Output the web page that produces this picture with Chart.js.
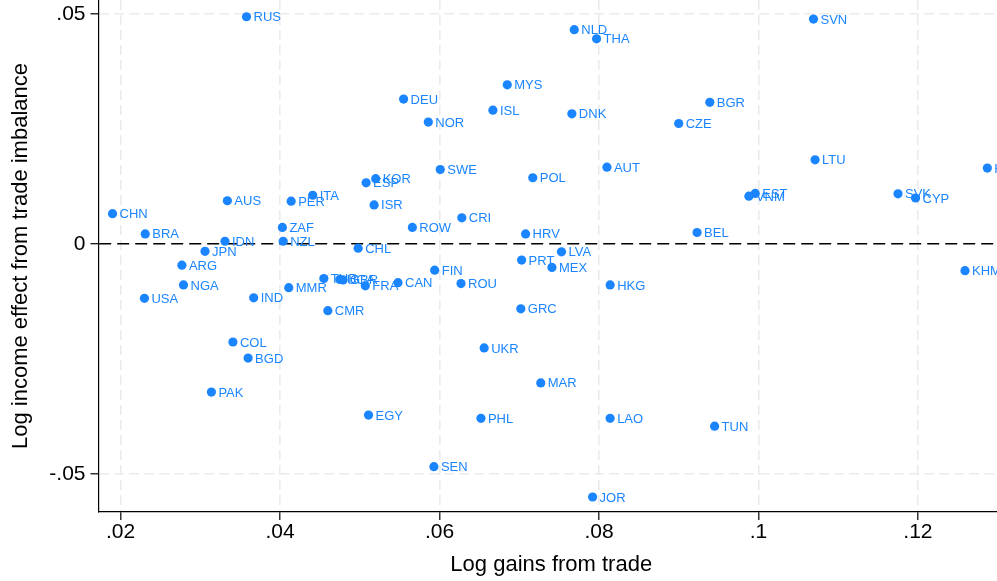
<!DOCTYPE html>
<html>
<head>
<meta charset="utf-8">
<script src="https://cdn.jsdelivr.net/npm/chart.js@4/dist/chart.umd.min.js"></script>
<style>
  html, body { margin: 0; padding: 0; overflow: hidden; background: #fff; width: 997px; height: 581px; }
  #wrap { position: absolute; left: 0; top: 0; width: 1004px; height: 581px; }
</style>
</head>
<body>
<div id="wrap"><canvas id="c" width="1004" height="581"></canvas></div>
<script>
// Country codes with their log gains from trade (x) and log income effect from trade imbalance (y)
const countries = ["RUS","NLD","THA","SVN","MYS","DEU","BGR","ISL","DNK","NOR","CZE","SWE","AUT","LTU","KOR","ESP","POL","ITA","PER","AUS","ISR","CHN","CRI","EST","VNM","SVK","CYP","HUN","ZAF","ROW","BRA","HRV","BEL","IDN","NZL","CHL","JPN","LVA","PRT","ARG","MEX","KHM","FIN","TUR","UGA","GBR","FRA","CAN","ROU","NGA","MMR","HKG","USA","IND","GRC","CMR","COL","UKR","BGD","MAR","PAK","EGY","PHL","LAO","TUN","SEN","JOR"];
const gains = [0.0358,0.0769,0.0797,0.1069,0.0685,0.0555,0.0939,0.0667,0.0766,0.0586,0.0900,0.0601,0.0810,0.1071,0.0520,0.0508,0.0717,0.0441,0.0414,0.0334,0.0518,0.0190,0.0628,0.0996,0.0988,0.1175,0.1197,0.1287,0.0403,0.0566,0.0231,0.0708,0.0923,0.0331,0.0404,0.0498,0.0306,0.0753,0.0703,0.0277,0.0741,0.1259,0.0594,0.0455,0.0475,0.0479,0.0507,0.0548,0.0627,0.0279,0.0411,0.0814,0.0230,0.0367,0.0702,0.0460,0.0341,0.0656,0.0360,0.0727,0.0314,0.0511,0.0652,0.0814,0.0945,0.0593,0.0792];
const imbalance = [0.0494,0.0466,0.0446,0.0489,0.0346,0.0315,0.0308,0.0291,0.0283,0.0265,0.0262,0.0162,0.0167,0.0183,0.0142,0.0133,0.0144,0.0106,0.0093,0.0094,0.0085,0.0066,0.0057,0.0110,0.0104,0.0109,0.0100,0.0165,0.0036,0.0036,0.0022,0.0022,0.0025,0.0006,0.0006,-0.0009,-0.0016,-0.0017,-0.0035,-0.0046,-0.0051,-0.0058,-0.0057,-0.0075,-0.0077,-0.0078,-0.0091,-0.0084,-0.0086,-0.0089,-0.0095,-0.0089,-0.0118,-0.0117,-0.0141,-0.0145,-0.0213,-0.0226,-0.0248,-0.0302,-0.0322,-0.0372,-0.0379,-0.0379,-0.0396,-0.0484,-0.0550];

const xTicks = [0.02, 0.04, 0.06, 0.08, 0.1, 0.12];
const yTicks = [-0.05, 0, 0.05];

const BLUE = '#1a85ff';
const FONT = '"Liberation Sans", Arial, Helvetica, sans-serif';

// Stata-style number format: drop the leading zero (".05", "-.05")
const fmt = v => v === 0 ? '0' : String(v).replace(/^(-?)0\./, '$1.');

const points = countries.map((c, i) => ({ x: gains[i], y: imbalance[i] }));

// Country code written to the right of each marker
const pointLabels = {
  id: 'pointLabels',
  afterDatasetsDraw(chart) {
    const ctx = chart.ctx;
    const meta = chart.getDatasetMeta(0);
    ctx.save();
    ctx.font = '13px ' + FONT;
    ctx.fillStyle = BLUE;
    ctx.textBaseline = 'middle';
    ctx.textAlign = 'left';
    meta.data.forEach((pt, i) => ctx.fillText(countries[i], pt.x + 7, pt.y + 1));
    ctx.restore();
  }
};

const isZero = c => c.tick && c.tick.value === 0;

new Chart(document.getElementById('c'), {
  type: 'scatter',
  data: {
    datasets: [{
      data: points,
      backgroundColor: BLUE,
      borderColor: BLUE,
      borderWidth: 0,
      pointRadius: 4.6,
      pointHoverRadius: 4.6
    }]
  },
  options: {
    responsive: false,
    animation: false,
    devicePixelRatio: 1,
    layout: { autoPadding: false, padding: 0 },
    plugins: { legend: { display: false }, tooltip: { enabled: false } },
    scales: {
      x: {
        type: 'linear',
        min: 0.017241,
        max: 0.13079,
        afterBuildTicks: s => { s.ticks = xTicks.map(v => ({ value: v })); },
        afterFit: s => { s.height = 69; s.paddingLeft = 0; s.paddingRight = 0; },
        ticks: { callback: v => fmt(v), color: '#000', font: { family: FONT, size: 21 }, padding: 0, maxRotation: 0 },
        grid: { color: '#ebebeb', lineWidth: 1.6, tickLength: 8, tickColor: '#000', tickWidth: 1.2 },
        border: { display: true, color: '#000', width: 1.2, dash: [10, 5] },
        title: { display: true, text: 'Log gains from trade', color: '#000', font: { family: FONT, size: 22 }, padding: { top: 0, bottom: 3 } }
      },
      y: {
        type: 'linear',
        min: -0.058261,
        max: 0.053043,
        afterBuildTicks: s => { s.ticks = yTicks.map(v => ({ value: v })); },
        afterFit: s => { s.width = 98.5; s.paddingTop = 0; s.paddingBottom = 0; },
        ticks: { callback: v => fmt(v), color: '#000', font: { family: FONT, size: 21 }, padding: 5 },
        grid: {
          color: c => isZero(c) ? '#000' : '#ebebeb',
          lineWidth: c => isZero(c) ? 1.4 : 1.6,
          tickLength: 8, tickColor: '#000', tickWidth: 1.2
        },
        border: { display: true, color: '#000', width: 1.2, dash: c => isZero(c) ? [12, 6] : [10, 5] },
        title: { display: true, text: 'Log income effect from trade imbalance', color: '#000', font: { family: FONT, size: 22 }, padding: { top: 8, bottom: 0 } }
      }
    }
  },
  plugins: [pointLabels]
});
</script>
</body>
</html>
